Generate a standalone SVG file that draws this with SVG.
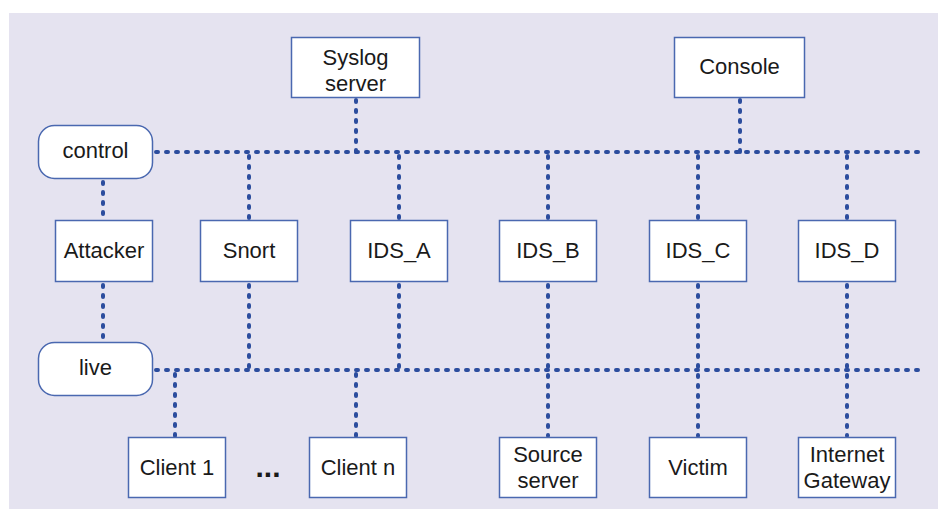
<svg xmlns="http://www.w3.org/2000/svg" width="938" height="510" viewBox="0 0 938 510">
<style>
.box{fill:#fff;stroke:#4a68b0;stroke-width:1.5}
.t{font-family:"Liberation Sans",Arial,sans-serif;font-size:22px;fill:#1a1a1a;text-anchor:middle}
.ln{fill:none;stroke:#2c4d9e;stroke-width:4;stroke-linecap:round;stroke-dasharray:2 8}
</style>
<rect x="9" y="13" width="929" height="496" fill="#e5e3f0"/>
<g id="connectors">
<path class="ln" d="M156 152H926"/>
<path class="ln" d="M156 370H926"/>
<path class="ln" d="M356 100V152"/>
<path class="ln" d="M740 100V152"/>
<path class="ln" d="M103 182V218"/>
<path class="ln" d="M103 285V340"/>
<path class="ln" d="M249 156V218"/>
<path class="ln" d="M249 285V370"/>
<path class="ln" d="M399 156V218"/>
<path class="ln" d="M399 285V370"/>
<path class="ln" d="M548 156V218"/>
<path class="ln" d="M548 285V436"/>
<path class="ln" d="M698 156V218"/>
<path class="ln" d="M698 285V436"/>
<path class="ln" d="M847 156V218"/>
<path class="ln" d="M847 285V436"/>
<path class="ln" d="M175 374V436"/>
<path class="ln" d="M356 374V436"/>
</g>
<g id="syslog"><rect class="box" x="291.5" y="37.5" width="128" height="60"/><text class="t" x="355.5" y="65">Syslog</text><text class="t" x="355.5" y="91">server</text></g>
<g id="console"><rect class="box" x="674.5" y="37.5" width="130" height="60"/><text class="t" x="739.5" y="74">Console</text></g>
<g id="control"><rect class="box" x="38.5" y="125.5" width="114" height="53" rx="16"/><text class="t" x="95.5" y="158">control</text></g>
<g id="attacker"><rect class="box" x="55.5" y="220.5" width="97" height="61"/><text class="t" x="104" y="258">Attacker</text></g>
<g id="snort"><rect class="box" x="200.5" y="220.5" width="97" height="61"/><text class="t" x="249" y="258">Snort</text></g>
<g id="ids_a"><rect class="box" x="350.5" y="220.5" width="97" height="61"/><text class="t" x="399" y="258">IDS_A</text></g>
<g id="ids_b"><rect class="box" x="499.5" y="220.5" width="97" height="61"/><text class="t" x="548" y="258">IDS_B</text></g>
<g id="ids_c"><rect class="box" x="649.5" y="220.5" width="97" height="61"/><text class="t" x="698" y="258">IDS_C</text></g>
<g id="ids_d"><rect class="box" x="798.5" y="220.5" width="97" height="61"/><text class="t" x="847" y="258">IDS_D</text></g>
<g id="live"><rect class="box" x="38.5" y="342.5" width="114" height="53" rx="16"/><text class="t" x="95.5" y="375">live</text></g>
<g id="client1"><rect class="box" x="128.5" y="437.5" width="97" height="60"/><text class="t" x="177" y="475">Client 1</text></g>
<g id="dots"><text class="t" x="268" y="477" style="font-weight:bold;font-size:30px">...</text></g>
<g id="clientn"><rect class="box" x="309.5" y="437.5" width="97" height="60"/><text class="t" x="358" y="475">Client n</text></g>
<g id="source"><rect class="box" x="499.5" y="437.5" width="97" height="60"/><text class="t" x="548" y="462">Source</text><text class="t" x="548" y="488">server</text></g>
<g id="victim"><rect class="box" x="649.5" y="437.5" width="97" height="60"/><text class="t" x="698" y="475">Victim</text></g>
<g id="gateway"><rect class="box" x="798.5" y="437.5" width="97" height="60"/><text class="t" x="847" y="462">Internet</text><text class="t" x="847" y="488">Gateway</text></g>
</svg>
